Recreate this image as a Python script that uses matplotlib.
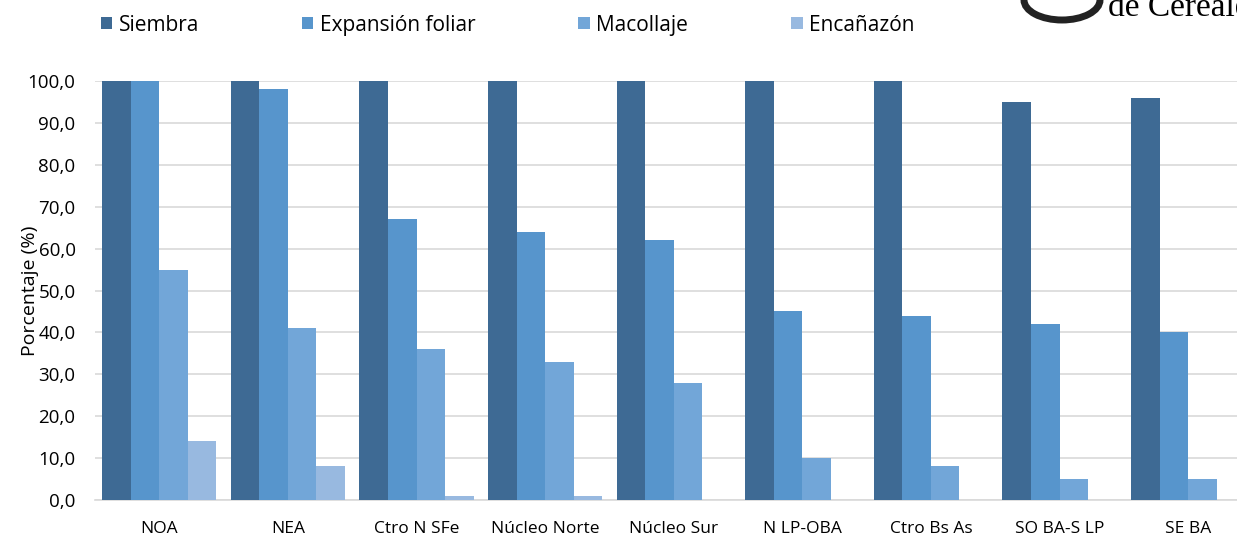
import numpy as np
import matplotlib
matplotlib.use('Agg')
import matplotlib.pyplot as plt
from matplotlib.patches import Patch, Ellipse

plt.rcParams['font.family'] = ['Open Sans', 'DejaVu Sans']

regiones = ['NOA', 'NEA', 'Ctro N SFe', 'Núcleo Norte', 'Núcleo Sur',
            'N LP-OBA', 'Ctro Bs As', 'SO BA-S LP', 'SE BA']
siembra = [100, 100, 100, 100, 100, 100, 100, 95, 96]
expansion = [100, 98, 67, 64, 62, 45, 44, 42, 40]
macollaje = [55, 41, 36, 33, 28, 10, 8, 5, 5]
encanazon = [14, 8, 1, 1, 0, 0, 0, 0, 0]

series = ['Siembra', 'Expansión foliar', 'Macollaje', 'Encañazón']
colores = ['#3E6A94', '#5795CC', '#72A6D8', '#98B9E0']

fig = plt.figure(figsize=(12.37, 5.37), dpi=100)
ax = fig.add_axes([95 / 1237, 1 - 500 / 537, 1 - 95 / 1237, 419 / 537])

x = np.arange(len(regiones))
w = 0.222
for i, (vals, c) in enumerate(zip([siembra, expansion, macollaje, encanazon], colores)):
    ax.bar(x + (i - 1.5) * w, vals, width=w, color=c, zorder=3)

ax.set_xlim(-0.5, 8.38)
ax.set_ylim(0, 100)
ax.set_yticks(np.arange(0, 101, 10))
ax.set_yticklabels([f'{v:.1f}'.replace('.', ',') for v in np.arange(0, 101, 10)])
ax.set_xticks(x)
ax.set_xticklabels(regiones)
ax.tick_params(axis='both', length=0, colors='#000000')
ax.tick_params(axis='x', pad=15, labelsize=12.5)
ax.tick_params(axis='y', pad=14, labelsize=13.5)
ax.grid(axis='y', color='#D9D9D9', linewidth=1.2, zorder=0)
for s in ['top', 'right', 'left']:
    ax.spines[s].set_visible(False)
ax.spines['bottom'].set_color('#D9D9D9')
ax.spines['bottom'].set_linewidth(1.2)
ax.set_ylabel('Porcentaje (%)', fontsize=14, labelpad=-8)

handles = [Patch(facecolor=c, label=s) for s, c in zip(series, colores)]
fig.legend(handles=handles, loc='center left', bbox_to_anchor=(82 / 1237, 1 - 25 / 537),
           ncol=4, frameon=False, fontsize=15, handlelength=0.55, handleheight=0.55,
           handletextpad=0.3, columnspacing=4.95)

# logo parcial arriba a la derecha
fig.text(1108 / 1237, 1 - 8 / 537, 'de Cereales', fontsize=24,
         family=['Liberation Serif', 'DejaVu Serif'], va='center', ha='left')
fig.patches.append(Ellipse((1062 / 1237, 1 - 0 / 537), 76 / 1237, 40 / 537,
                           transform=fig.transFigure, facecolor='none',
                           edgecolor='#222222', linewidth=5))

fig.savefig('out.png', dpi=100)
